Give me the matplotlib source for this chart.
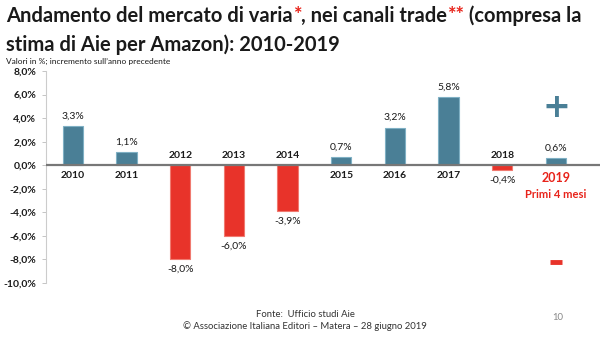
import matplotlib
matplotlib.use("Agg")
import matplotlib.pyplot as plt
import numpy as np

years = ["2010", "2011", "2012", "2013", "2014", "2015", "2016", "2017", "2018", "2019"]
values = [3.3, 1.1, -8.0, -6.0, -3.9, 0.7, 3.2, 5.8, -0.4, 0.6]
yticks = [8, 6, 4, 2, 0, -2, -4, -6, -8, -10]
plus_value = 4.9
minus_value = -8.25

BLUE = "#4A7F96"
BLUE_EDGE = "#7FB0C4"
RED = "#E8332A"
RED_EDGE = "#F07A70"
TXT = "#1a1a1a"
FONT = "Lato"

plt.rcParams['font.family'] = [FONT, 'DejaVu Sans']

fig = plt.figure(figsize=(6.0, 3.37), dpi=100)
ax = fig.add_axes([46/600, 1-283/337, (600-46)/600, (283-71)/337])

x = np.arange(len(years))
colors = [BLUE if v >= 0 else RED for v in values]
edges = [BLUE_EDGE if v >= 0 else RED_EDGE for v in values]
ax.bar(x, values, width=0.38, color=colors, edgecolor=edges, linewidth=0.8, zorder=2)

ax.set_xlim(-0.5, 9.82)
ax.set_ylim(-10, 8)
ax.set_yticks(yticks)
ax.set_yticklabels([f"{t:.1f}%".replace(".", ",") for t in yticks],
                   fontsize=7.5, fontweight="bold", color=TXT)
ax.tick_params(axis="y", length=3, width=0.6, color="#bbbbbb", pad=4)
ax.set_xticks([])
for s in ["top", "right", "bottom"]:
    ax.spines[s].set_visible(False)
ax.spines["left"].set_color("#cccccc")
ax.spines["left"].set_linewidth(0.8)
ax.axhline(0, color="#777777", linewidth=1.6, zorder=3)

for i, (yr, v) in enumerate(zip(years, values)):
    lab = f"{v:.1f}%".replace(".", ",")
    if v >= 0:
        ax.annotate(lab, (i, v), xytext=(0, 4), textcoords="offset points",
                    ha="center", va="bottom", fontsize=7.5, color=TXT)
        if yr != "2019":
            ax.annotate(yr, (i, 0), xytext=(0, -4), textcoords="offset points",
                        ha="center", va="top", fontsize=7.5, fontweight="bold", color=TXT)
    else:
        ax.annotate(lab, (i, v), xytext=(0, -4), textcoords="offset points",
                    ha="center", va="top", fontsize=7.5, color=TXT)
        ax.annotate(yr, (i, 0), xytext=(0, 4), textcoords="offset points",
                    ha="center", va="bottom", fontsize=7.5, fontweight="bold", color=TXT)

ax.annotate("2019", (9, 0), xytext=(0, -5), textcoords="offset points",
            ha="center", va="top", fontsize=9, fontweight="bold", color="#E8231A")
ax.annotate("Primi 4 mesi", (9, 0), xytext=(0, -17), textcoords="offset points",
            ha="center", va="top", fontsize=8, fontweight="bold", color="#E8231A")

ax.text(9, plus_value, "+", ha="center", va="center", fontsize=24,
        fontweight="bold", color=BLUE, family="DejaVu Sans")
ax.plot([8.88, 9.12], [minus_value, minus_value], color=RED, linewidth=3.5,
        solid_capstyle="butt")

# title with red asterisks
fig.canvas.draw()
renderer = fig.canvas.get_renderer()
def seq(parts, x0, y0, size, weight="normal"):
    xx = x0
    for txt, col in parts:
        t = fig.text(xx, y0, txt, fontsize=size, color=col, fontweight=weight,
                     ha="left", va="baseline")
        bb = t.get_window_extent(renderer)
        xx = bb.x1 / fig.bbox.width
    return xx

seq([("Andamento del mercato di varia", TXT), ("*", "#E8231A"),
     (", nei canali trade", TXT), ("**", "#E8231A"),
     (" (compresa la", TXT)], 6/600, 1-22/337, 14.5, "bold")
seq([("stima di Aie per Amazon): 2010-2019", TXT)], 6/600, 1-51/337, 14.5, "bold")
fig.text(6/600, 1-64/337, "Valori in %; incremento sull\u2019anno precedente",
         fontsize=6, color=TXT, ha="left", va="baseline")

fig.text(305/600, 1-317/337, "Fonte:  Ufficio studi Aie", fontsize=6.8, ha="center",
         va="baseline", color="#333333")
fig.text(305/600, 1-329/337, "\u00a9 Associazione Italiana Editori \u2013 Matera \u2013 28 giugno 2019",
         fontsize=6.8, ha="center", va="baseline", color="#333333")
fig.text(558/600, 1-320/337, "10", fontsize=6.8, ha="center", va="baseline", color="#888888")

fig.savefig("out.png", dpi=100)
